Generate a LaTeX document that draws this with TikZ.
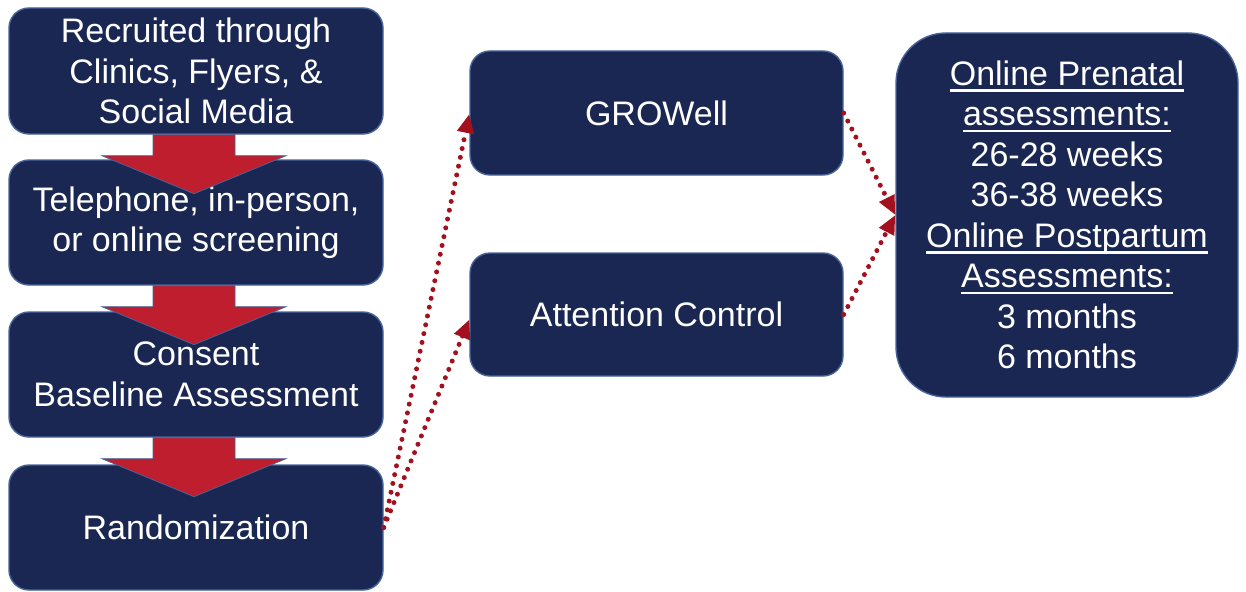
\documentclass[tikz,border=0pt]{standalone}
\usepackage{fontspec}
\setmainfont{Liberation Sans}
\usetikzlibrary{arrows.meta,calc}
\definecolor{navy}{HTML}{1B2753}
\definecolor{edgeblue}{HTML}{46639A}
\definecolor{arrred}{HTML}{BE1E2D}
\definecolor{dotred}{HTML}{A3111F}
\newcommand\myul[1]{\setbox0\hbox{#1}\rlap{\vrule width\wd0 height -4pt depth 6.2pt}\box0}
\tikzset{
  flowbox/.style={draw=edgeblue, line width=1.4pt, fill=navy, rounded corners=20pt,
    text=white, align=center, inner sep=0pt,
    font=\fontsize{34}{40.5}\selectfont},
  bigarrow/.style={fill=arrred, draw=edgeblue, line width=0.8pt, line join=miter},
  dotlink/.style={draw=dotred, line width=5pt, line cap=round,
    dash pattern=on 0pt off 9pt,
    -{Triangle[length=19pt,width=16pt,fill=dotred]}}
}
\begin{document}
\begin{tikzpicture}[x=1pt,y=-1pt]
\useasboundingbox (0,0) rectangle (1246,591);
% left column
\node[flowbox, minimum width=374pt, minimum height=126pt] (b1) at (196,71)
  {Recruited through\\Clinics, Flyers, \&\\Social Media};
\node[flowbox, minimum width=374pt, minimum height=125pt] (b2) at (196,222.5)
  {Telephone, in-person,\\or online screening};
\node[flowbox, minimum width=374pt, minimum height=125pt] (b3) at (196,374.5)
  {Consent\\Baseline Assessment};
\node[flowbox, minimum width=374pt, minimum height=125pt] (b4) at (196,527.5)
  {Randomization};
% middle column
\node[flowbox, minimum width=373pt, minimum height=124pt] (grow) at (656.5,113)
  {GROWell};
\node[flowbox, minimum width=373pt, minimum height=123pt] (att) at (656.5,314.5)
  {Attention Control};
% right box
\node[flowbox, rounded corners=50pt, minimum width=342pt, minimum height=364pt] (res) at (1067,215)
  {\myul{Online Prenatal}\\\myul{assessments:}\\26-28 weeks\\36-38 weeks\\
   \myul{Online Postpartum}\\\myul{Assessments:}\\3 months\\6 months};
% big red arrows
\foreach \a/\b in {b1/b2,b2/b3,b3/b4}{
  \draw[bigarrow] ($(\a.south)+(-43,0)$) -- ($(\a.south)+(-43,21)$) -- ($(\a.south)+(-94,21)$)
    -- ($(\a.south)+(-2,59)$) -- ($(\a.south)+(90,21)$) -- ($(\a.south)+(39,21)$)
    -- ($(\a.south)+(39,0)$) -- cycle;
}
% dotted connectors
\draw[dotlink] (b4.east) -- ($(grow.west)+(0,1)$);
\draw[dotlink] (b4.east) -- ($(att.west)+(0,5)$);
\draw[dotlink] (grow.east) -- (res.west);
\draw[dotlink] (att.east) -- (res.west);
\end{tikzpicture}
\end{document}
